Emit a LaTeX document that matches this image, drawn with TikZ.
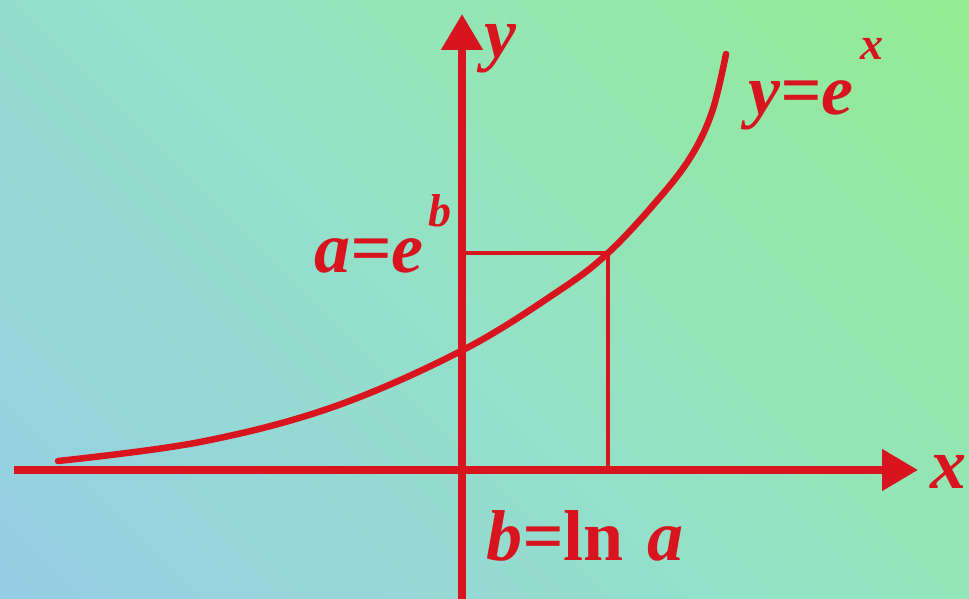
\documentclass[tikz,border=0pt]{standalone}
\usepackage{fontspec}
\setmainfont{Liberation Serif}
\usetikzlibrary{arrows.meta,positioning}
\definecolor{inkred}{HTML}{D8141E}
\definecolor{bggreen}{HTML}{94EC8E}
\definecolor{bgmid}{HTML}{94E2C6}
\definecolor{bgblue}{HTML}{96CCE8}

\begin{document}
\begin{tikzpicture}[
  x=1pt, y=-1pt,
  every node/.style={text=inkred, inner sep=0pt, font=\bfseries\itshape\fontsize{72}{80}\selectfont},
  axis/.style={draw=inkred, line width=8pt, -{Triangle[length=36pt,width=40pt]}},
  guide/.style={draw=inkred, line width=4.5pt},
  curve/.style={draw=inkred, line width=6.5pt, line cap=round},
  sup/.style={font=\bfseries\itshape\fontsize{46}{50}\selectfont}
]
  \clip (0,0) rectangle (969,599);
  \shade[bottom color=bgblue, top color=bggreen, middle color=bgmid, shading angle=-45]
    (-200,-200) rectangle (1169,799);

  \coordinate (O) at (462,470);
  \coordinate (xstart) at (14,470);
  \coordinate (xtip) at (918,470);
  \coordinate (ystart) at (462,599);
  \coordinate (ytip) at (462,14);
  \coordinate (P) at (608,253);
  \coordinate (Py) at (462,253);
  \coordinate (Px) at (608,470);

  % graph of e^x
  \draw[curve] plot[smooth, tension=0.6] coordinates {
    (58,461) (200,442) (333,407) (463,350) (560,290) (608,253)
    (655,203) (690,158) (712,112) (726,54)};

  \draw[guide] (Py) -- (P) -- (Px);

  \draw[axis] (xstart) -- (xtip);
  \draw[axis] (ystart) -- (ytip);

  \node[anchor=base west] (ylab) at (484,58) {y};
  \node[anchor=base west] (xlab) at (930,488) {x};
  \node[anchor=base west] (curvelab) at (748,115) {y=e};
  \node[sup, anchor=base west] (curvesup) at (860,60) {x};
  \node[anchor=base west] (alab) at (314,272) {a=e};
  \node[sup, anchor=base west] (asup) at (428,226) {b};
  \node[anchor=base west] (blab) at (486,560) {b=\textup{ln}\,\,a};
\end{tikzpicture}
\end{document}
